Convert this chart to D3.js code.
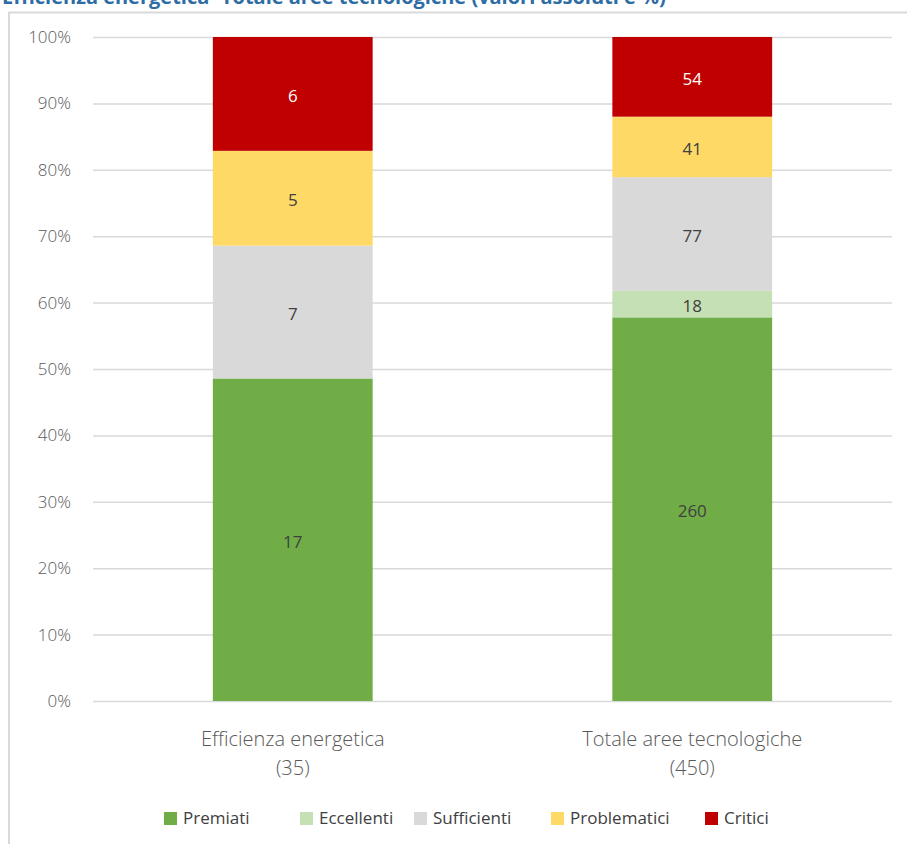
<!DOCTYPE html>
<html>
  <head>
    <meta charset="utf-8">
    <title>Efficienza energetica - Totale aree tecnologiche</title>
    <script src="https://cdnjs.cloudflare.com/ajax/libs/d3/7.8.5/d3.min.js"></script>
    <style>
      body { margin: 0; background: #fff; }
      svg text { font-family: "Open Sans", "Noto Sans", sans-serif; }
    </style>
  </head>
  <body>
    <script>

      var outerWidth = 907;
      var outerHeight = 844;

      // data
      var categories = ["Efficienza energetica", "Totale aree tecnologiche"];
      var totals = ["(35)", "(450)"];
      var seriesNames = ["Premiati", "Eccellenti", "Sufficienti", "Problematici", "Critici"];
      var seriesColors = ["#70ad47", "#c5e0b4", "#d9d9d9", "#ffd966", "#c00000"];
      var premiati = [17, 260];
      var eccellenti = [0, 18];
      var sufficienti = [7, 77];
      var problematici = [5, 41];
      var critici = [6, 54];
      var yTicks = [0, 0.1, 0.2, 0.3, 0.4, 0.5, 0.6, 0.7, 0.8, 0.9, 1];

      var seriesValues = [premiati, eccellenti, sufficienti, problematici, critici];

      // build rows, one per category, with shares of the total
      var rows = categories.map(function (c, i) {
        var row = { name: c };
        var sum = d3.sum(seriesValues, function (s) { return s[i]; });
        seriesNames.forEach(function (s, j) {
          row[s] = seriesValues[j][i] / sum;
          row[s + "_n"] = seriesValues[j][i];
        });
        return row;
      });

      var margin = { left: 93, top: 37, right: 15, bottom: 143 };
      var innerWidth = outerWidth - margin.left - margin.right;
      var innerHeight = outerHeight - margin.top - margin.bottom;

      var svg = d3.select("body").append("svg")
        .attr("width", outerWidth)
        .attr("height", outerHeight);

      // frame and clipped title (the reference crops it at the top)
      svg.append("path")
        .attr("d", "M9,844 V12.5 H907")
        .attr("fill", "none")
        .attr("stroke", "#d9d9d9")
        .attr("stroke-width", 2);

      svg.append("text")
        .attr("x", 2)
        .attr("y", 4)
        .attr("fill", "#2e6da4")
        .attr("font-weight", "bold")
        .attr("font-size", 20)
        .text("Efficienza energetica- Totale aree tecnologiche (valori assoluti e %)");

      var g = svg.append("g")
        .attr("transform", "translate(" + margin.left + "," + margin.top + ")");

      var xScale = d3.scaleBand()
        .domain(categories)
        .range([0, innerWidth])
        .paddingInner(0.6)
        .paddingOuter(0.3);
      var yScale = d3.scaleLinear().domain([0, 1]).range([innerHeight, 0]);

      // gridlines
      g.append("g").selectAll("line").data(yTicks).enter().append("line")
        .attr("x1", 0)
        .attr("x2", innerWidth)
        .attr("y1", function (d) { return yScale(d) + 0.5; })
        .attr("y2", function (d) { return yScale(d) + 0.5; })
        .attr("stroke", "#d9d9d9")
        .attr("stroke-width", 1.5);

      // y tick labels
      var pct = d3.format(".0%");
      g.append("g").selectAll("text").data(yTicks).enter().append("text")
        .attr("x", -22)
        .attr("y", function (d) { return yScale(d); })
        .attr("dy", "0.35em")
        .attr("text-anchor", "end")
        .attr("fill", "#595959")
        .attr("font-size", 17)
        .style("font-weight", 300)
        .text(function (d) { return pct(d); });

      var stack = d3.stack().keys(seriesNames);
      var stacked = stack(rows);

      var layers = g.selectAll("g.layer").data(stacked).enter().append("g")
        .attr("class", "layer")
        .attr("fill", function (d, i) { return seriesColors[i]; });

      layers.selectAll("rect").data(function (d) { return d; }).enter().append("rect")
        .attr("x", function (d) { return xScale(d.data.name); })
        .attr("y", function (d) { return yScale(d[1]); })
        .attr("width", xScale.bandwidth())
        .attr("height", function (d) { return yScale(d[0]) - yScale(d[1]); });

      // value labels
      layers.each(function (layer, i) {
        d3.select(this).selectAll("text").data(layer.filter(function (d) { return d[1] - d[0] > 0; }))
          .enter().append("text")
          .attr("x", function (d) { return xScale(d.data.name) + xScale.bandwidth() / 2; })
          .attr("y", function (d) { return (yScale(d[0]) + yScale(d[1])) / 2 + 2; })
          .attr("dy", "0.35em")
          .attr("text-anchor", "middle")
          .attr("font-size", 17)
          .attr("fill", seriesNames[i] === "Critici" ? "#ffffff" : "#404040")
          .text(function (d) { return d.data[seriesNames[i] + "_n"]; });
      });

      // x axis labels
      var xLabels = g.append("g").selectAll("text").data(categories).enter().append("text")
        .attr("x", function (d) { return xScale(d) + xScale.bandwidth() / 2; })
        .attr("y", innerHeight + 45)
        .attr("text-anchor", "middle")
        .attr("font-size", 20)
        .attr("fill", "#595959")
        .style("font-weight", 300);
      xLabels.append("tspan").text(function (d) { return d; });
      xLabels.append("tspan")
        .attr("x", function (d) { return xScale(d) + xScale.bandwidth() / 2; })
        .attr("dy", 29)
        .text(function (d, i) { return totals[i]; });

      // legend
      var legendX = [164, 300, 414, 551, 705];
      var legend = svg.append("g").selectAll("g").data(seriesNames).enter().append("g")
        .attr("transform", function (d, i) { return "translate(" + legendX[i] + ",812)"; });
      legend.append("rect")
        .attr("width", 13)
        .attr("height", 13)
        .attr("fill", function (d, i) { return seriesColors[i]; });
      legend.append("text")
        .attr("x", 19)
        .attr("y", 6.5)
        .attr("dy", "0.35em")
        .attr("font-size", 17)
        .attr("fill", "#404040")
        .text(function (d) { return d; });

    </script>
  </body>
</html>
